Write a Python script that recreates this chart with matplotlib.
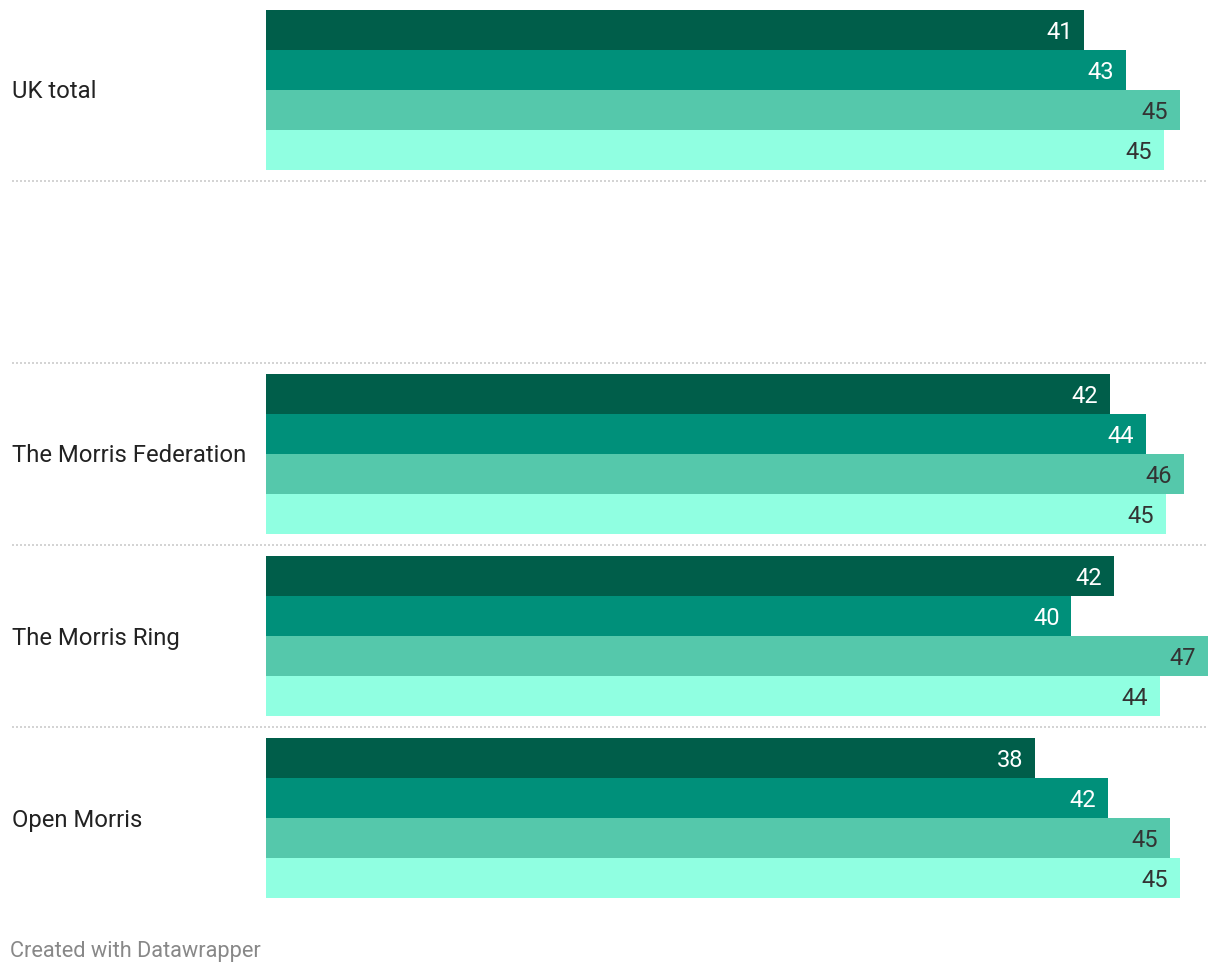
"""Grouped horizontal bars, Datawrapper style"""
import matplotlib.pyplot as plt
import numpy as np

plt.rcParams['font.family'] = ['Roboto', 'DejaVu Sans']

categories = ['UK total', '', 'The Morris Federation', 'The Morris Ring', 'Open Morris']
series_1 = [40.75, None, 42.0, 42.2, 38.3]
series_2 = [42.8, None, 43.8, 40.1, 41.9]
series_3 = [45.49, None, 45.7, 46.9, 45.0]
series_4 = [44.7, None, 44.8, 44.49, 45.49]
series = [series_1, series_2, series_3, series_4]
colors = ['#005e4a', '#00907a', '#55c8ab', '#90ffe1']
label_colors = ['white', 'white', '#333333', '#333333']

W, H = 1220, 974
fig = plt.figure(figsize=(W / 100, H / 100), dpi=100)
# axes covers bar area: x from 266px to 1208px, y from top to 910px
ax = fig.add_axes([266 / W, 1 - 910 / H, (1208 - 266) / W, 910 / H])
ax.set_xlim(0, max(v for s in series for v in s if v is not None))
ax.set_ylim(910, 0)
ax.axis('off')

pitch = 182
bar_h = 40
for i, cat in enumerate(categories):
    top = 10 + pitch * i
    for j, s in enumerate(series):
        v = s[i]
        if v is None:
            continue
        yc = top + bar_h * j + bar_h / 2
        ax.barh(yc, v, height=bar_h, color=colors[j], linewidth=0)
        ax.annotate(str(int(round(v))), (v, yc), xytext=(-8.5, -1.5),
                    textcoords='offset points', ha='right', va='center',
                    color=label_colors[j], fontsize=17)
    if cat:
        fig.text(12 / W, 1 - (top + 2 * bar_h + 2) / H, cat, ha='left',
                 va='center', fontsize=17.2, color='#222222')
    # dotted separators between rows
    if i < len(categories) - 1:
        ys = 1 - (top + 4 * bar_h + 11) / H
        fig.add_artist(plt.Line2D([12 / W, 1208 / W], [ys, ys],
                                  color='#cccccc', linewidth=1.2,
                                  linestyle=(0, (1.2, 1.2))))

fig.text(10 / W, 1 - 951 / H, 'Created with Datawrapper', ha='left',
         va='center', fontsize=15.7, color='#888888')

fig.savefig('out.png', dpi=100, facecolor='white')
